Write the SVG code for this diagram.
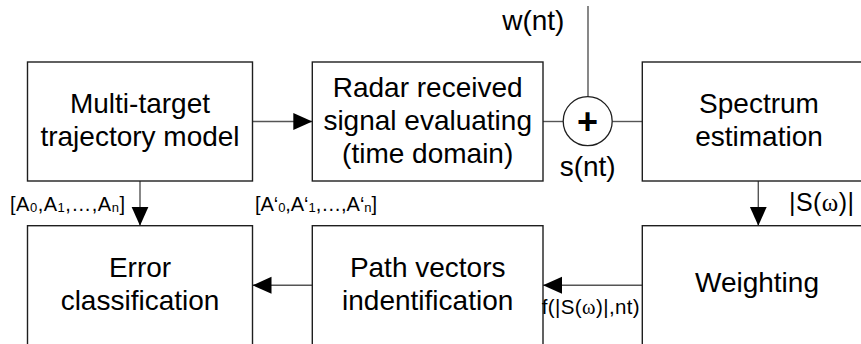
<svg xmlns="http://www.w3.org/2000/svg" width="861" height="344" viewBox="0 0 861 344">
  <style>
    .box { fill: #ffffff; stroke: #1e1e1e; stroke-width: 1.4; }
    .wire { fill: none; stroke: #555555; stroke-width: 1.4; }
    text { font-family: "Liberation Sans", Arial, sans-serif; fill: #000000; }
    .big { font-size: 28px; text-anchor: middle; }
    .lbl { font-size: 28px; }
    .small { font-size: 20px; }
    .sub { font-size: 13px; }
    .greek { font-family: "Liberation Serif", "Times New Roman", serif; }
  </style>
  <defs>
    <marker id="arrow" markerUnits="userSpaceOnUse" markerWidth="20" markerHeight="18" refX="19" refY="8.5" orient="auto">
      <path d="M0,0 L19,8.5 L0,17 Z" fill="#000000"/>
    </marker>
  </defs>

  <rect width="861" height="344" fill="#ffffff"/>

  <!-- connectors -->
  <g id="connectors">
    <line class="wire" x1="252.5" y1="121.5" x2="312.3" y2="121.5" marker-end="url(#arrow)"/>
    <line class="wire" x1="543" y1="121.5" x2="563.2" y2="121.5"/>
    <line class="wire" x1="612.2" y1="121.5" x2="642.3" y2="121.5"/>
    <line class="wire" x1="588" y1="6" x2="588" y2="96.8"/>
    <line class="wire" x1="140" y1="181" x2="140" y2="225.7" marker-end="url(#arrow)"/>
    <line class="wire" x1="758.3" y1="181" x2="758.3" y2="225.7" marker-end="url(#arrow)"/>
    <line class="wire" x1="312.3" y1="285.3" x2="252.5" y2="285.3" marker-end="url(#arrow)"/>
    <line class="wire" x1="642.3" y1="285.3" x2="543" y2="285.3" marker-end="url(#arrow)"/>
  </g>

  <!-- top row -->
  <g id="trajectory-model">
    <rect class="box" x="27.5" y="62" width="225" height="119"/>
    <text class="big" x="140" y="112.5">Multi-target</text>
    <text class="big" x="140" y="145.5">trajectory model</text>
  </g>

  <g id="signal-evaluating">
    <rect class="box" x="312.3" y="62" width="230.7" height="119"/>
    <text class="big" x="427.7" y="96.5">Radar received</text>
    <text class="big" x="427.7" y="129.5">signal evaluating</text>
    <text class="big" x="427.7" y="162.5">(time domain)</text>
  </g>

  <g id="summing-junction">
    <circle cx="587.7" cy="121.2" r="24.5" fill="#ffffff" stroke="#1e1e1e" stroke-width="1.3"/>
    <text x="587.5" y="134" font-size="36" font-weight="bold" text-anchor="middle">+</text>
  </g>

  <g id="spectrum-estimation">
    <rect class="box" x="642.3" y="62" width="233" height="119"/>
    <text class="big" x="759" y="112.5">Spectrum</text>
    <text class="big" x="759" y="146">estimation</text>
  </g>

  <!-- bottom row -->
  <g id="error-classification">
    <rect class="box" x="27.5" y="225.7" width="225" height="130"/>
    <text class="big" x="140" y="276.5">Error</text>
    <text class="big" x="140" y="310">classification</text>
  </g>

  <g id="path-vectors">
    <rect class="box" x="312.3" y="225.7" width="230.7" height="130"/>
    <text class="big" x="427.7" y="276.5">Path vectors</text>
    <text class="big" x="427.7" y="310">indentification</text>
  </g>

  <g id="weighting">
    <rect class="box" x="642.3" y="225.7" width="233" height="130"/>
    <text class="big" x="757" y="291.5">Weighting</text>
  </g>

  <!-- signal labels -->
  <g id="labels">
    <text class="lbl" x="533.3" y="30" text-anchor="middle">w(nt)</text>
    <text class="lbl" x="587.7" y="176" text-anchor="middle">s(nt)</text>
    <text x="789" y="211" font-size="25" textLength="65" lengthAdjust="spacing">|S(<tspan class="greek">ω</tspan>)|</text>
    <text class="small" x="10" y="210.7" textLength="115" lengthAdjust="spacing">[A<tspan class="sub" dy="1">0</tspan><tspan dy="-1">,A</tspan><tspan class="sub" dy="1">1</tspan><tspan dy="-1">,…,A</tspan><tspan class="sub" dy="1">n</tspan><tspan dy="-1">]</tspan></text>
    <text class="small" x="255" y="210.7" textLength="122" lengthAdjust="spacing">[A‘<tspan class="sub" dy="1">0</tspan><tspan dy="-1">,A‘</tspan><tspan class="sub" dy="1">1</tspan><tspan dy="-1">,…,A‘</tspan><tspan class="sub" dy="1">n</tspan><tspan dy="-1">]</tspan></text>
    <text x="541.7" y="314" font-size="20.5" textLength="98" lengthAdjust="spacing">f(|S(<tspan class="greek">ω</tspan>)|,nt)</text>
  </g>
</svg>
